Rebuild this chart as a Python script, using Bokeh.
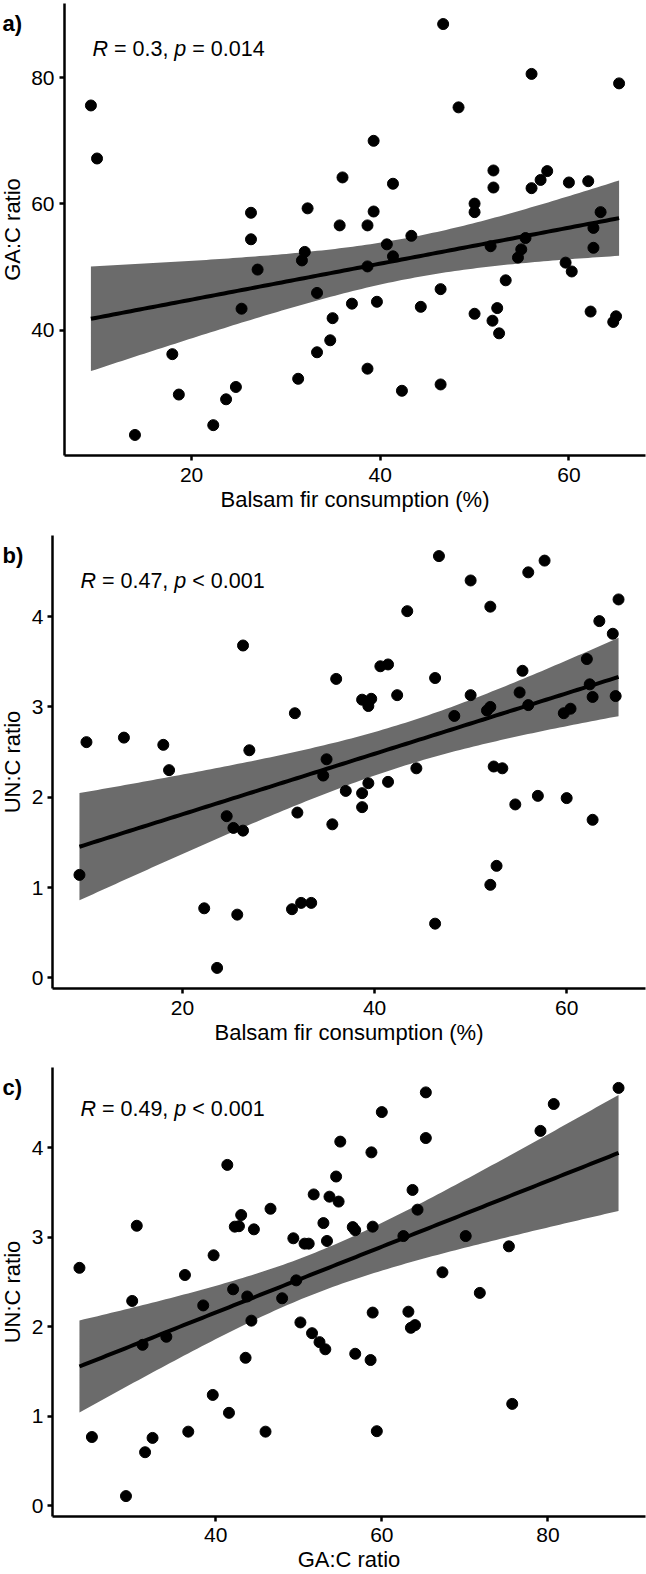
import numpy as np
from bokeh.plotting import figure
from bokeh.layouts import column, row
from bokeh.models import FixedTicker, Label, Range1d
from bokeh.core.properties import value
from bokeh.embed import file_html
from bokeh.resources import INLINE

# ---------------- data ----------------
# panel a: Balsam fir consumption (%) vs GA:C ratio
a_fir = [46.67, 56.04, 65.32, 9.33, 48.3, 9.98, 39.3, 36.0, 41.35, 52.0,
         52.0, 56.04, 57.0, 57.7, 60.0, 62.05, 26.3, 32.3, 39.3, 50.0,
         50.0, 63.36, 26.3, 35.7, 38.65, 43.3, 55.4, 62.6, 40.7, 51.7,
         54.95, 62.6, 32.0, 31.7, 41.35, 54.6, 59.65, 60.3, 27.0, 38.65,
         53.3, 33.3, 46.4, 25.3, 37.0, 39.65, 44.3, 50.0, 52.4, 62.3,
         51.9, 52.6, 65.0, 64.7, 34.95, 34.7, 33.3, 17.96, 38.65, 31.3,
         46.4, 42.3, 24.7, 18.65, 23.66, 22.3, 14.0]
a_ga = [88.5, 80.6, 79.1, 75.6, 75.3, 67.2, 70.0, 64.2, 63.2, 65.3,
        62.6, 62.5, 63.8, 65.2, 63.4, 63.6, 58.6, 59.3, 58.8, 60.05,
        58.7, 58.7, 54.4, 56.6, 56.6, 54.95, 54.6, 56.2, 53.6, 53.3,
        52.8, 53.05, 52.4, 51.05, 51.7, 51.5, 50.7, 49.3, 49.6, 50.1,
        47.9, 45.9, 46.5, 43.4, 44.2, 44.5, 43.7, 42.6, 43.5, 42.95,
        41.5, 39.5, 42.2, 41.3, 41.9, 38.4, 36.5, 36.2, 33.9, 32.3,
        31.4, 30.4, 31.0, 29.8, 29.05, 24.95, 23.4]

# panel b: Balsam fir consumption (%) vs UN:C ratio
b_fir = [46.7, 57.7, 56.0, 50.0, 52.05, 43.4, 65.4, 63.4, 64.8, 26.3,
         62.1, 40.6, 41.4, 55.4, 36.0, 46.3, 62.4, 55.1, 42.35, 50.0,
         62.7, 65.1, 38.7, 39.65, 39.35, 56.0, 52.05, 51.7, 60.4, 59.7,
         31.7, 48.3, 10.0, 13.9, 18.0, 26.96, 35.0, 18.6, 44.35, 52.4,
         53.3, 34.65, 39.35, 41.4, 37.0, 38.7, 38.7, 24.6, 25.3, 26.3,
         31.96, 35.6, 54.65, 57.0, 60.0, 62.7, 9.27, 52.7, 52.05, 22.26,
         25.7, 31.4, 32.35, 33.4, 46.3, 23.6]
b_un = [4.67, 4.62, 4.49, 4.40, 4.11, 4.06, 4.19, 3.95, 3.81, 3.68,
        3.53, 3.45, 3.47, 3.40, 3.31, 3.32, 3.25, 3.16, 3.13, 3.13,
        3.11, 3.12, 3.08, 3.09, 3.01, 3.02, 3.00, 2.96, 2.98, 2.93,
        2.93, 2.90, 2.61, 2.66, 2.58, 2.52, 2.42, 2.30, 2.32, 2.34,
        2.32, 2.24, 2.155, 2.17, 2.07, 2.045, 1.89, 1.79, 1.66, 1.63,
        1.83, 1.70, 1.92, 2.015, 1.99, 1.75, 1.14, 1.24, 1.03, 0.77,
        0.70, 0.76, 0.83, 0.83, 0.60, 0.11]

# panel c: GA:C ratio vs UN:C ratio
c_ga = [88.5, 65.3, 80.7, 60.0, 79.1, 65.3, 55.0, 58.75, 41.4, 54.5,
        63.7, 51.8, 53.7, 54.8, 46.6, 64.3, 43.07, 52.97, 42.3, 42.8,
        30.5, 44.6, 56.5, 56.8, 58.9, 62.6, 70.1, 49.35, 50.7, 51.2,
        53.4, 75.3, 39.75, 23.6, 67.3, 36.3, 42.1, 49.7, 71.8, 29.95,
        43.8, 48.0, 38.5, 58.9, 63.2, 44.3, 50.2, 63.5, 64.0, 51.6,
        34.06, 31.2, 52.5, 53.2, 56.8, 58.65, 43.6, 39.65, 41.6, 75.7,
        25.1, 32.4, 31.5, 36.7, 46.0, 59.4, 29.2]
c_un = [4.67, 4.62, 4.49, 4.40, 4.19, 4.11, 4.07, 3.95, 3.81, 3.68,
        3.53, 3.48, 3.455, 3.40, 3.32, 3.31, 3.25, 3.16, 3.12, 3.125,
        3.13, 3.09, 3.115, 3.08, 3.12, 3.015, 3.015, 2.99, 2.93, 2.93,
        2.96, 2.90, 2.80, 2.66, 2.61, 2.58, 2.42, 2.52, 2.38, 2.29,
        2.34, 2.32, 2.24, 2.16, 2.17, 2.07, 2.05, 1.99, 2.02, 1.93,
        1.89, 1.80, 1.83, 1.75, 1.70, 1.63, 1.655, 1.24, 1.04, 1.14,
        0.77, 0.76, 0.60, 0.83, 0.83, 0.835, 0.11]

# labels
panel_tags = ["a)", "b)", "c)"]
x_titles = ["Balsam fir consumption (%)", "Balsam fir consumption (%)", "GA:C ratio"]
y_titles = ["GA:C ratio", "UN:C ratio", "UN:C ratio"]
x_ticks = [[20, 40, 60], [20, 40, 60], [40, 60, 80]]
y_ticks = [[40, 60, 80], [0, 1, 2, 3, 4], [0, 1, 2, 3, 4]]
stat_r = ["0.3", "0.47", "0.49"]
stat_p = [("=", "0.014"), ("<", "0.001"), ("<", "0.001")]

FONT = "Liberation Sans"
BAND = "#6b6b6b"
T975 = 1.997  # t quantile, df ~ 65
GUTTER = 28   # strip at the far left holding panel tag and y title

# approximate advance widths (em) for Liberation Sans / Arial
ADV = {"R": 0.722, "p": 0.556, "=": 0.584, "<": 0.584, ".": 0.278, ",": 0.278,
       " ": 0.278}
for d in "0123456789":
    ADV[d] = 0.556


def text_w(s, size):
    return sum(ADV.get(ch, 0.556) for ch in s) * size


def fit_band(x, y, n_pts=120):
    x = np.asarray(x, float)
    y = np.asarray(y, float)
    n = len(x)
    b1, b0 = np.polyfit(x, y, 1)
    xs = np.linspace(x.min(), x.max(), n_pts)
    yh = b0 + b1 * xs
    res = y - (b0 + b1 * x)
    s = np.sqrt(np.sum(res ** 2) / (n - 2))
    sxx = np.sum((x - x.mean()) ** 2)
    se = s * np.sqrt(1.0 / n + (xs - x.mean()) ** 2 / sxx)
    return xs, yh, yh - T975 * se, yh + T975 * se


def expand(v):
    v = np.asarray(v, float)
    lo, hi = v.min(), v.max()
    d = (hi - lo) * 0.05
    return lo - d, hi + d


def make_gutter(i, height, top, bottom):
    fh = height - top - bottom
    g = figure(width=GUTTER, height=height, output_backend="svg", toolbar_location=None,
               x_range=Range1d(0, GUTTER), y_range=Range1d(0, fh),
               x_axis_location=None, y_axis_location=None,
               min_border_left=0, min_border_right=0,
               min_border_top=top, min_border_bottom=bottom)
    g.outline_line_color = None
    g.grid.visible = False
    g.border_fill_color = "white"
    g.background_fill_color = "white"
    g.text(x=[2], y=[fh - 20], text=[panel_tags[i]],
           text_font=value(FONT), text_font_style="bold", text_font_size="22px",
           text_baseline="alphabetic", text_align="left", text_color="black")
    g.text(x=[12], y=[fh / 2], text=[y_titles[i]], angle=np.pi / 2,
           text_font=value(FONT), text_font_size="22px",
           text_baseline="middle", text_align="center", text_color="black")
    return g


def make_panel(i, xs, ys, height, left, bottom, ms, xms):
    xr = expand(xs)
    yr = expand(ys)
    p = figure(width=646 - GUTTER, height=height, output_backend="svg",
               toolbar_location=None,
               x_range=Range1d(*xr), y_range=Range1d(*yr),
               min_border_left=left, min_border_right=1, min_border_top=3,
               min_border_bottom=bottom)
    p.outline_line_color = None
    p.xgrid.visible = False
    p.ygrid.visible = False
    p.background_fill_color = "white"
    p.border_fill_color = "white"

    for ax, ticks in ((p.xaxis[0], x_ticks[i]), (p.yaxis[0], y_ticks[i])):
        ax.ticker = FixedTicker(ticks=ticks)
        ax.minor_tick_line_color = None
        ax.major_tick_in = 0
        ax.major_tick_out = 5
        ax.major_tick_line_width = 2.5
        ax.axis_line_width = 2.5
        ax.axis_line_color = "black"
        ax.major_tick_line_color = "black"
        ax.major_label_text_font = FONT
        ax.major_label_text_font_size = "21px"
        ax.major_label_text_color = "black"
    xa = p.xaxis[0]
    xa.axis_label = x_titles[i]
    xa.axis_label_text_font = FONT
    xa.axis_label_text_font_size = "22px"
    xa.axis_label_text_font_style = "normal"
    xa.axis_label_text_color = "black"
    xa.axis_label_text_line_height = 1.0
    xa.major_label_standoff = xms
    xa.axis_label_standoff = 2
    p.yaxis[0].major_label_standoff = ms

    bx, by, blo, bhi = fit_band(xs, ys)
    p.varea(x=bx, y1=blo, y2=bhi, fill_color=BAND, fill_alpha=1.0)
    p.line(bx, by, line_color="black", line_width=4)
    p.scatter(xs, ys, size=11, color="black", marker="circle")

    fh = height - 3 - bottom
    # correlation text: R = r, p = / < value
    fs = 21.5
    xpos = 28
    ypos = fh - 45
    op, pv = stat_p[i]
    pieces = [("R", "italic"), ("= " + stat_r[i] + ",", "normal"),
              ("p", "italic"), (op + " " + pv, "normal")]
    for txt, style in pieces:
        p.add_layout(Label(x=xpos, y=ypos, x_units="screen", y_units="screen",
                           text=txt, text_font=FONT, text_font_style=style,
                           text_font_size=f"{fs}px", text_baseline="alphabetic",
                           text_color="black"))
        xpos += text_w(txt + " ", fs)
    return p


specs = [  # (height, left border, bottom border, y tick standoff, x tick standoff)
    (532, 62 - GUTTER, 77, 5, 7),
    (532, 50 - GUTTER, 76, 4, 7),
    (510, 50 - GUTTER, 54, 4, 6),
]
data = [(a_fir, a_ga), (b_fir, b_un), (c_ga, c_un)]

rows = []
for i, ((h, lb, bb, ms, xms), (xs, ys)) in enumerate(zip(specs, data)):
    g = make_gutter(i, h, 3, bb)
    p = make_panel(i, xs, ys, h, lb, bb, ms, xms)
    rows.append(row(g, p, spacing=0))

layout = column(*rows, spacing=0)
open("out.html", "w").write(file_html(layout, INLINE))
